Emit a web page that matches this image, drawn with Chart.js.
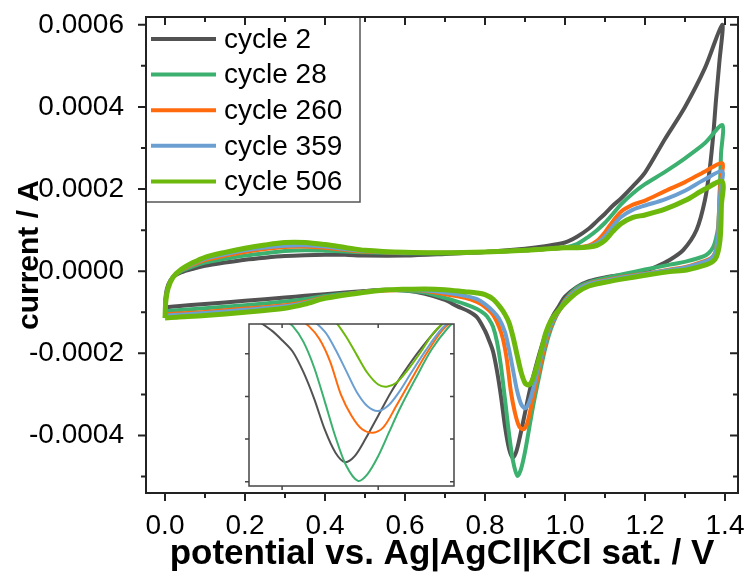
<!DOCTYPE html>
<html>
<head>
<meta charset="utf-8">
<script src="https://cdn.jsdelivr.net/npm/chart.js@4.4.1/dist/chart.umd.min.js"></script>
<style>
  body { margin: 0; background: #fff; }
  #wrap { position: relative; width: 747px; height: 574px; }
  #inset { position: absolute; left: 244px; top: 319px; }
</style>
</head>
<body>
<div id="wrap">
  <canvas id="cv" width="747" height="574"></canvas>
  <canvas id="inset" width="215" height="172"></canvas>
</div>
<script>
const FONT = '"Liberation Sans", Arial, sans-serif';
const uA = 1e-6; // currents below are in microampere

const cycleLabels = ["cycle 2", "cycle 28", "cycle 260", "cycle 359", "cycle 506"];

// anodic sweep, same potential grid for every cycle (V)
const upV = [0, 0.002, 0.008, 0.02, 0.04, 0.07, 0.1, 0.15, 0.2, 0.25, 0.3, 0.35, 0.4, 0.45, 0.5,
  0.6, 0.7, 0.8, 0.9, 0.95, 1.0, 1.03, 1.06, 1.08, 1.1, 1.12, 1.14, 1.17, 1.2, 1.25, 1.3, 1.35, 1.393];

const upI2   = [-88, -58, -33, -14, -3, 6, 13, 21, 28, 33, 37, 39, 40, 40, 38, 38, 42, 47, 55, 61, 70, 84, 104, 122, 140, 160, 177, 207, 240, 322, 400, 495, 600];
const upI28  = [-98, -65, -37, -14, 0, 12, 21, 30, 38, 44, 49, 51, 50, 48, 46, 44, 44, 47, 51, 54, 58, 66, 85, 100, 118, 140, 163, 190, 212, 242, 275, 312, 356];
const upI260 = [-105, -68, -39, -14, 2, 16, 27, 38, 47, 54, 59, 60, 57, 52, 48, 45, 45, 47, 51, 54, 57, 58, 63, 74, 95, 122, 145, 162, 172, 195, 217, 243, 263];
const upI359 = [-108, -70, -40, -14, 3, 18, 30, 41, 51, 58, 62, 63, 60, 54, 49, 45, 45, 47, 51, 54, 57, 57, 61, 68, 85, 110, 132, 150, 160, 175, 196, 224, 243];
const upI506 = [-114, -74, -41, -15, 4, 21, 34, 46, 56, 64, 70, 70, 65, 58, 51, 46, 45, 47, 51, 54, 57, 57, 59, 63, 75, 97, 116, 131, 137, 151, 172, 200, 218];

// cathodic sweep, back from the vertex to 0 V
const downV2 = [1.386, 1.3775, 1.371, 1.3625, 1.35, 1.329, 1.296, 1.2625, 1.23, 1.19, 1.15, 1.1, 1.06, 1.03, 1.0,
  0.985, 0.97, 0.955, 0.94, 0.925, 0.912, 0.9, 0.888, 0.878, 0.869, 0.86, 0.85, 0.84, 0.83, 0.82,
  0.81, 0.8, 0.78, 0.76, 0.73, 0.7, 0.65, 0.6, 0.55, 0.5, 0.4, 0.35, 0.3, 0.2, 0.1, 0.03];
const downI2 = [510, 417, 336, 255, 174, 101, 52, 28, 12, -2, -8, -15, -24, -38, -62,
  -85, -108, -143, -188, -240, -290, -345, -400, -440, -454, -432, -378, -305, -243, -195,
  -168, -145, -112, -98, -85, -70, -55, -47, -45, -48, -56, -60, -64, -72, -80, -85];

const downV28 = [1.39, 1.3875, 1.383, 1.377, 1.371, 1.36, 1.346, 1.304, 1.2625, 1.2, 1.15, 1.1, 1.06, 1.03, 1.0, 0.98,
  0.965, 0.95, 0.935, 0.92, 0.91, 0.9, 0.89, 0.881, 0.87, 0.86, 0.85, 0.84, 0.83, 0.82, 0.81,
  0.8, 0.78, 0.75, 0.7, 0.65, 0.6, 0.55, 0.5, 0.4, 0.35, 0.3, 0.2, 0.1, 0.03];
const downI28 = [285, 214, 109, 78, 60, 45, 36, 24, 16, 4, -6, -17, -27, -40, -70, -105,
  -140, -190, -258, -330, -385, -440, -482, -498, -462, -395, -312, -232, -172, -135, -117,
  -105, -92, -80, -65, -52, -47, -46, -50, -60, -68, -74, -83, -90, -95];

const downV260 = [1.389, 1.386, 1.383, 1.379, 1.375, 1.365, 1.346, 1.304, 1.2625, 1.2, 1.15, 1.1, 1.06, 1.03, 1.0, 0.99, 0.975,
  0.96, 0.945, 0.93, 0.917, 0.905, 0.895, 0.885, 0.875, 0.865, 0.855, 0.845, 0.835, 0.82, 0.8, 0.78,
  0.75, 0.7, 0.65, 0.6, 0.55, 0.5, 0.4, 0.35, 0.3, 0.2, 0.1, 0.03];
const downI260 = [220, 174, 93, 62, 44, 32, 24, 11, 4, -6, -13, -22, -30, -45, -72, -90, -112,
  -145, -200, -265, -322, -372, -385, -377, -345, -295, -218, -165, -135, -106, -87, -75,
  -65, -56, -48, -46, -47, -50, -64, -75, -83, -91, -99, -103];

const downV359 = [1.389, 1.386, 1.383, 1.379, 1.375, 1.365, 1.346, 1.304, 1.2625, 1.2, 1.15, 1.1, 1.06, 1.03, 1.0, 0.99, 0.975,
  0.96, 0.945, 0.93, 0.92, 0.91, 0.9, 0.89, 0.88, 0.87, 0.86, 0.85, 0.835, 0.82, 0.8, 0.78,
  0.75, 0.7, 0.65, 0.6, 0.55, 0.5, 0.4, 0.35, 0.3, 0.2, 0.1, 0.03];
const downI359 = [200, 160, 93, 60, 43, 31, 22, 10, 3, -7, -14, -23, -31, -46, -74, -90, -110,
  -140, -190, -248, -288, -320, -334, -323, -290, -240, -190, -148, -115, -97, -80, -68,
  -60, -52, -47, -45, -46, -50, -65, -77, -85, -94, -102, -106];

const downV506 = [1.391, 1.389, 1.385, 1.379, 1.37, 1.354, 1.304, 1.2625, 1.2, 1.15, 1.1, 1.06, 1.03, 1.0, 0.98, 0.965, 0.952,
  0.94, 0.927, 0.917, 0.908, 0.9, 0.89, 0.88, 0.87, 0.86, 0.85, 0.84, 0.82, 0.8, 0.78, 0.75,
  0.7, 0.65, 0.6, 0.55, 0.5, 0.4, 0.35, 0.3, 0.2, 0.1, 0.03];
const downI506 = [160, 93, 58, 36, 24, 16, 3, -1, -10, -18, -27, -36, -52, -78, -100, -120, -150,
  -195, -240, -268, -277, -272, -245, -203, -160, -125, -105, -90, -68, -57, -53, -50,
  -45, -43, -44, -46, -51, -66, -80, -90, -100, -108, -112];

// axis ticks
const xTicks = [0, 0.2, 0.4, 0.6, 0.8, 1.0, 1.2, 1.4];
const xMinor = [0.1, 0.3, 0.5, 0.7, 0.9, 1.1, 1.3];
const yTicks = [-0.0004, -0.0002, 0, 0.0002, 0.0004, 0.0006];
const yMinor = [-0.0005, -0.0003, -0.0001, 0.0001, 0.0003, 0.0005];
const insetXTicks = [0.81, 0.9];
const insetYTicks = [-0.0005, -0.0004, -0.0003, -0.0002];

const colors = ["#525252", "#3cb06f", "#ff6a0d", "#6b9fd1", "#6db80c"];
const widths = [4, 4, 4, 4, 5];

const upI = [upI2, upI28, upI260, upI359, upI506];
const downV = [downV2, downV28, downV260, downV359, downV506];
const downI = [downI2, downI28, downI260, downI359, downI506];

// one closed voltammogram per cycle
function loop(k) {
  const pts = upV.map((v, i) => ({ x: v, y: upI[k][i] * uA }));
  downV[k].forEach((v, i) => pts.push({ x: v, y: downI[k][i] * uA }));
  pts.push({ x: pts[0].x, y: pts[0].y });
  return pts;
}

function makeDatasets(lw) {
  return cycleLabels.map((label, k) => ({
    label: label,
    data: loop(k),
    showLine: true,
    borderColor: colors[k],
    backgroundColor: colors[k],
    borderWidth: lw ? lw : widths[k],
    pointRadius: 0,
    tension: 0.3,
    fill: false,
    order: cycleLabels.length - k   // later cycles drawn on top
  }));
}

// box around the plot with ticks out on bottom/left and in on top/right
const frameTicks = {
  id: "frameTicks",
  beforeDraw(chart, args, o) {
    const { ctx, chartArea: a } = chart;
    ctx.save();
    ctx.fillStyle = "#fff";
    ctx.fillRect(a.left, a.top, a.right - a.left, a.bottom - a.top);
    ctx.restore();
  },
  afterDraw(chart, args, o) {
    const { ctx, chartArea: a, scales: { x, y } } = chart;
    ctx.save();
    ctx.strokeStyle = o.color;
    ctx.lineWidth = o.width;
    const tx = (vals, len) => vals.forEach(v => {
      const p = x.getPixelForValue(v);
      ctx.beginPath();
      ctx.moveTo(p, a.bottom); ctx.lineTo(p, a.bottom + len);
      ctx.moveTo(p, a.top); ctx.lineTo(p, a.top + len);
      ctx.stroke();
    });
    const ty = (vals, len) => vals.forEach(v => {
      const p = y.getPixelForValue(v);
      ctx.beginPath();
      ctx.moveTo(a.left - len, p); ctx.lineTo(a.left, p);
      ctx.moveTo(a.right - len, p); ctx.lineTo(a.right, p);
      ctx.stroke();
    });
    tx(o.xMajor, o.major); tx(o.xMinor, o.minor);
    ty(o.yMajor, o.major); ty(o.yMinor, o.minor);
    ctx.strokeRect(a.left, a.top, a.right - a.left, a.bottom - a.top);
    ctx.restore();
  }
};

// legend in a box at the upper left corner
const boxLegend = {
  id: "boxLegend",
  afterDraw(chart, args, o) {
    const { ctx, chartArea: a } = chart;
    ctx.save();
    ctx.fillStyle = "#fff";
    ctx.fillRect(a.left, a.top, o.w, o.h);
    ctx.strokeStyle = "#555";
    ctx.lineWidth = 1.5;
    ctx.strokeRect(a.left, a.top, o.w, o.h);
    ctx.font = "28px " + FONT;
    ctx.textBaseline = "middle";
    chart.data.datasets.forEach((ds, i) => {
      const yy = a.top + 22 + i * 35.6;
      ctx.strokeStyle = ds.borderColor;
      ctx.lineWidth = 4;
      ctx.beginPath();
      ctx.moveTo(a.left + 5, yy);
      ctx.lineTo(a.left + 70, yy);
      ctx.stroke();
      ctx.fillStyle = "#000";
      ctx.fillText(ds.label, a.left + 78, yy + 1);
    });
    ctx.restore();
  }
};

new Chart(document.getElementById("cv"), {
  type: "scatter",
  data: { datasets: makeDatasets() },
  plugins: [boxLegend, frameTicks],
  options: {
    responsive: false,
    animation: false,
    layout: { padding: { top: 17, right: 9, left: 0, bottom: 0 } },
    plugins: {
      legend: { display: false },
      tooltip: { enabled: false },
      boxLegend: { w: 214, h: 185 },
      frameTicks: { color: "#222", width: 2, major: 8, minor: 5,
        xMajor: xTicks, xMinor: xMinor, yMajor: yTicks, yMinor: yMinor }
    },
    scales: {
      x: {
        type: "linear",
        min: -0.0475,
        max: 1.4325,
        grid: { display: false },
        border: { display: false },
        afterBuildTicks: s => { s.ticks = xTicks.map(v => ({ value: v })); },
        afterFit: s => { s.height = 81; s.paddingLeft = 0; s.paddingRight = 0; },
        ticks: {
          padding: 8,
          autoSkip: false,
          maxRotation: 0,
          color: "#000",
          font: { family: FONT, size: 28 },
          callback: v => v.toFixed(1)
        },
        title: {
          display: true,
          text: "potential vs. Ag|AgCl|KCl sat. / V",
          color: "#000",
          font: { family: FONT, size: 35, weight: "bold" },
          padding: { top: 0, bottom: -1 }
        }
      },
      y: {
        type: "linear",
        min: -0.00054,
        max: 0.000619,
        grid: { display: false },
        border: { display: false },
        afterBuildTicks: s => { s.ticks = yTicks.map(v => ({ value: v })); },
        afterFit: s => { s.width = 146; s.paddingTop = 0; s.paddingBottom = 0; },
        ticks: {
          padding: 14,
          autoSkip: false,
          color: "#000",
          font: { family: FONT, size: 28 },
          callback: v => v.toFixed(4)
        },
        title: {
          display: true,
          text: "current / A",
          color: "#000",
          font: { family: FONT, size: 30, weight: "bold" },
          padding: { top: 12, bottom: 0 }
        }
      }
    }
  }
});

// zoom on the reduction peak
new Chart(document.getElementById("inset"), {
  type: "scatter",
  data: { datasets: makeDatasets(2) },
  plugins: [frameTicks],
  options: {
    responsive: false,
    animation: false,
    layout: { padding: 5 },
    plugins: {
      legend: { display: false },
      tooltip: { enabled: false },
      frameTicks: { color: "#444", width: 1.5, major: 4, minor: 0,
        xMajor: insetXTicks, xMinor: [], yMajor: insetYTicks, yMinor: [] }
    },
    scales: {
      x: { type: "linear", display: false, min: 0.779, max: 0.971 },
      y: { type: "linear", display: false, min: -0.00051, max: -0.00013 }
    }
  }
});
</script>
</body>
</html>
